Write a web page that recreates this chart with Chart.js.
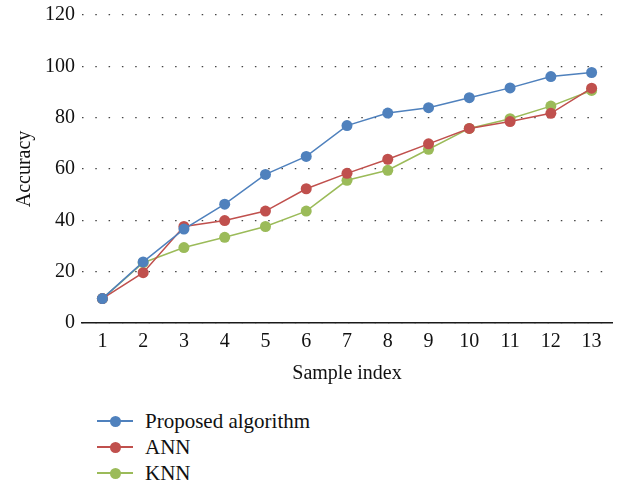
<!DOCTYPE html>
<html>
<head>
<meta charset="utf-8">
<script src="https://cdn.jsdelivr.net/npm/chart.js@4.4.1/dist/chart.umd.min.js"></script>
<style>
  html, body { margin: 0; padding: 0; background: #fff; }
  #wrap { position: relative; width: 623px; height: 487px; overflow: hidden; }
  #chartBox { position: absolute; left: 0; top: 0; width: 623px; height: 395px; }
  #legend { position: absolute; left: 97px; top: 408px; font-family: "Liberation Serif", "DejaVu Serif", serif; font-size: 21px; color: #111; }
  .item { display: flex; align-items: center; height: 26px; }
  .sample { position: relative; width: 36px; height: 11px; margin-right: 12px; }
  .sample .ln { position: absolute; left: 0; right: 0; top: 4.5px; height: 2px; }
  .sample .dt { position: absolute; left: 12.5px; top: 0; width: 11px; height: 11px; border-radius: 50%; }
</style>
</head>
<body>
<div id="wrap">
  <div id="chartBox"><canvas id="c" width="623" height="395"></canvas></div>
  <div id="legend"></div>
</div>
<script>
const categories = ["1","2","3","4","5","6","7","8","9","10","11","12","13"];
const proposed = [9.5, 23.8, 36.6, 46.3, 57.9, 64.9, 76.9, 81.8, 83.9, 87.8, 91.6, 96.0, 97.6];
const ann      = [9.5, 19.6, 37.6, 39.9, 43.6, 52.3, 58.3, 63.8, 69.8, 75.8, 78.5, 81.7, 91.5];
const knn      = [9.5, 23.5, 29.4, 33.4, 37.6, 43.6, 55.6, 59.5, 67.7, 75.8, 79.6, 84.5, 90.6];
const seriesNames = ["Proposed algorithm", "ANN", "KNN"];
const colors = ["#4f81bd", "#c0504d", "#9bbb59"];
const yTicks = [0, 20, 40, 60, 80, 100, 120];

const font = "'Liberation Serif', 'DejaVu Serif', serif";
const allSeries = [proposed, ann, knn];

const datasets = allSeries.map((d, i) => ({
  label: seriesNames[i],
  data: d,
  borderColor: colors[i],
  backgroundColor: colors[i],
  pointBackgroundColor: colors[i],
  pointBorderColor: colors[i],
  pointRadius: 5.5,
  pointBorderWidth: 0,
  pointHoverRadius: 5.5,
  borderWidth: 1.5,
  tension: 0,
  fill: false
}));

new Chart(document.getElementById('c'), {
  type: 'line',
  data: { labels: categories, datasets: datasets },
  options: {
    responsive: false,
    animation: false,
    devicePixelRatio: 1,
    layout: { padding: { left: 9, right: 11, top: 11, bottom: 0 } },
    plugins: { legend: { display: false }, tooltip: { enabled: false } },
    scales: {
      x: {
        offset: true,
        grid: { display: false, drawTicks: false },
        border: { display: true, color: '#1a1a1a', width: 1.5 },
        ticks: { color: '#111', font: { family: font, size: 20 }, padding: 7, maxRotation: 0, autoSkip: false },
        title: { display: true, text: 'Sample index', color: '#111', font: { family: font, size: 20 }, padding: { top: 0, bottom: 9 } },
        afterFit: (s) => { s.height = 72; }
      },
      y: {
        min: 0, max: 120,
        afterBuildTicks: (s) => { s.ticks = yTicks.map(v => ({ value: v })); },
        grid: { color: '#444', lineWidth: 1.2, drawTicks: false },
        border: { display: false, dash: [1.5, 11.8] },
        ticks: { color: '#111', font: { family: font, size: 20, lineHeight: 0.8 }, padding: 7 },
        title: { display: true, text: 'Accuracy', color: '#111', font: { family: font, size: 20 }, padding: { bottom: 4 } },
        afterFit: (s) => { s.width = 73; }
      }
    }
  }
});

const legend = document.getElementById('legend');
seriesNames.forEach((n, i) => {
  const it = document.createElement('div');
  it.className = 'item';
  it.innerHTML = '<div class="sample"><div class="ln" style="background:' + colors[i] + '"></div><div class="dt" style="background:' + colors[i] + '"></div></div><span>' + n + '</span>';
  legend.appendChild(it);
});
</script>
</body>
</html>
